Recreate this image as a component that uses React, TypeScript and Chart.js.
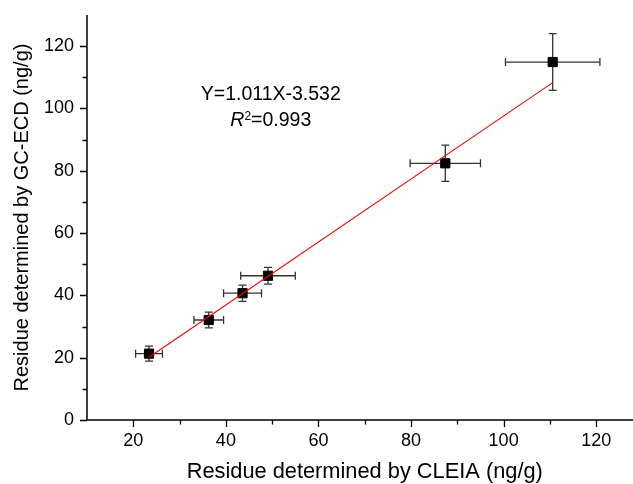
import React, { useEffect, useRef } from 'react';
import { Chart, registerables } from 'chart.js';

Chart.register(...registerables);

// ---- data ----
const cleiaValues = [23.4, 36.3, 43.6, 49.1, 87.4, 110.6];
const gcecdValues = [21.3, 32.1, 40.7, 46.3, 82.4, 114.9];
const cleiaErrors = [2.9, 3.2, 4.1, 5.9, 7.6, 10.2];
const gcecdErrors = [2.4, 2.5, 2.6, 2.7, 5.8, 9.1];
const fitSlope = 1.011;
const fitIntercept = -3.532;
const xMajorTicks = [20, 40, 60, 80, 100, 120];
const xMinorTicks = [30, 50, 70, 90, 110, 130];
const yMajorTicks = [0, 20, 40, 60, 80, 100, 120];
const yMinorTicks = [10, 30, 50, 70, 90, 110];
const equationText = 'Y=1.011X-3.532';
const r2Text = '=0.993';
const xTitle = 'Residue determined by CLEIA (ng/g)';
const yTitle = 'Residue determined by GC-ECD (ng/g)';

const FONT = "'Liberation Sans', Arial, Helvetica, sans-serif";

const decorPlugin = {
  id: 'decor',
  beforeDatasetsDraw(chart: any) {
    const { ctx, scales } = chart;
    const x = scales.x;
    const y = scales.y;
    ctx.save();
    ctx.strokeStyle = '#333333';
    ctx.lineWidth = 1.3;
    const cap = 4;
    cleiaValues.forEach((cx, i) => {
      const cy = gcecdValues[i];
      const px = x.getPixelForValue(cx);
      const py = y.getPixelForValue(cy);
      const xl = x.getPixelForValue(cx - cleiaErrors[i]);
      const xr = x.getPixelForValue(cx + cleiaErrors[i]);
      const yt = y.getPixelForValue(cy + gcecdErrors[i]);
      const yb = y.getPixelForValue(cy - gcecdErrors[i]);
      ctx.beginPath();
      ctx.moveTo(xl, py); ctx.lineTo(xr, py);
      ctx.moveTo(xl, py - cap); ctx.lineTo(xl, py + cap);
      ctx.moveTo(xr, py - cap); ctx.lineTo(xr, py + cap);
      ctx.moveTo(px, yt); ctx.lineTo(px, yb);
      ctx.moveTo(px - cap, yt); ctx.lineTo(px + cap, yt);
      ctx.moveTo(px - cap, yb); ctx.lineTo(px + cap, yb);
      ctx.stroke();
    });
    ctx.restore();
  },
  afterDraw(chart: any) {
    const { ctx, scales, chartArea } = chart;
    const x = scales.x;
    const y = scales.y;
    ctx.save();
    ctx.strokeStyle = '#000000';
    ctx.lineWidth = 1.5;
    // axis lines
    ctx.beginPath();
    ctx.moveTo(chartArea.left, chartArea.top);
    ctx.lineTo(chartArea.left, chartArea.bottom);
    ctx.lineTo(chartArea.right, chartArea.bottom);
    ctx.stroke();
    // ticks (outward)
    const major = 7;
    const minor = 4.5;
    ctx.lineWidth = 1.3;
    ctx.beginPath();
    xMajorTicks.forEach((v) => {
      const p = Math.round(x.getPixelForValue(v)) + 0.5;
      ctx.moveTo(p, chartArea.bottom); ctx.lineTo(p, chartArea.bottom + major);
    });
    xMinorTicks.forEach((v) => {
      const p = Math.round(x.getPixelForValue(v)) + 0.5;
      ctx.moveTo(p, chartArea.bottom); ctx.lineTo(p, chartArea.bottom + minor);
    });
    yMajorTicks.forEach((v) => {
      const p = Math.round(y.getPixelForValue(v)) + 0.5;
      ctx.moveTo(chartArea.left, p); ctx.lineTo(chartArea.left - major, p);
    });
    yMinorTicks.forEach((v) => {
      const p = Math.round(y.getPixelForValue(v)) + 0.5;
      ctx.moveTo(chartArea.left, p); ctx.lineTo(chartArea.left - minor, p);
    });
    ctx.stroke();

    // equation annotation
    ctx.fillStyle = '#000000';
    ctx.textBaseline = 'alphabetic';
    const cx = x.getPixelForValue(49.7);
    ctx.font = `19.5px ${FONT}`;
    ctx.textAlign = 'center';
    ctx.fillText(equationText, cx, y.getPixelForValue(102.6));

    const baseR = y.getPixelForValue(94.3);
    ctx.textAlign = 'left';
    ctx.font = `italic 19.5px ${FONT}`;
    const wR = ctx.measureText('R').width;
    ctx.font = `12px ${FONT}`;
    const w2 = ctx.measureText('2').width;
    ctx.font = `19.5px ${FONT}`;
    const wRest = ctx.measureText(r2Text).width;
    const total = wR + w2 + wRest;
    let sx = cx - total / 2;
    ctx.font = `italic 19.5px ${FONT}`;
    ctx.fillText('R', sx, baseR);
    sx += wR;
    ctx.font = `12px ${FONT}`;
    ctx.fillText('2', sx, baseR - 6.5);
    sx += w2;
    ctx.font = `19.5px ${FONT}`;
    ctx.fillText(r2Text, sx, baseR);
    ctx.restore();
  },
};

export default function App() {
  const canvasRef = useRef<HTMLCanvasElement | null>(null);

  useEffect(() => {
    const canvas = canvasRef.current;
    if (!canvas) return;
    const xMin = Math.min(...cleiaValues);
    const xMax = Math.max(...cleiaValues);
    const fitLine = [xMin, xMax].map((v) => ({ x: v, y: fitSlope * v + fitIntercept }));
    const points = cleiaValues.map((v, i) => ({ x: v, y: gcecdValues[i] }));

    const chart = new Chart(canvas, {
      type: 'scatter',
      data: {
        datasets: [
          {
            type: 'line',
            label: 'fit',
            data: fitLine,
            borderColor: '#ff0000',
            borderWidth: 1.1,
            pointRadius: 0,
            fill: false,
          } as any,
          {
            label: 'data',
            data: points,
            pointStyle: 'rect',
            pointRadius: 6.5,
            pointBackgroundColor: '#000000',
            pointBorderColor: '#000000',
            pointBorderWidth: 1,
            showLine: false,
          },
        ],
      },
      options: {
        responsive: false,
        animation: false,
        events: [],
        layout: { padding: { top: 15, right: 7, left: 0, bottom: 0 } },
        plugins: {
          legend: { display: false },
          tooltip: { enabled: false },
        },
        scales: {
          x: {
            type: 'linear',
            min: 10,
            max: 130,
            grid: { display: false, drawTicks: false },
            border: { display: false },
            afterBuildTicks: (scale: any) => {
              scale.ticks = xMajorTicks.map((v) => ({ value: v }));
            },
            afterFit: (scale: any) => {
              scale.height = 64;
              scale.paddingLeft = 0;
              scale.paddingRight = 0;
            },
            ticks: {
              color: '#000000',
              padding: 10,
              maxRotation: 0,
              autoSkip: false,
              font: { family: FONT, size: 18 },
            },
            title: {
              display: true,
              text: xTitle,
              color: '#000000',
              font: { family: FONT, size: 21.8, lineHeight: 1.1 },
              padding: { top: 0, bottom: 0 },
            },
          },
          y: {
            type: 'linear',
            min: 0,
            max: 130,
            grid: { display: false, drawTicks: false },
            border: { display: false },
            afterBuildTicks: (scale: any) => {
              scale.ticks = yMajorTicks.map((v) => ({ value: v }));
            },
            afterFit: (scale: any) => {
              scale.width = 87;
              scale.paddingTop = 0;
              scale.paddingBottom = 0;
            },
            ticks: {
              color: '#000000',
              padding: 13,
              autoSkip: false,
              font: { family: FONT, size: 18 },
            },
            title: {
              display: true,
              text: yTitle,
              color: '#000000',
              font: { family: FONT, size: 20, lineHeight: 1.2 },
              padding: { top: 10.5, bottom: 0 },
            },
          },
        },
      },
      plugins: [decorPlugin],
    });
    return () => chart.destroy();
  }, []);

  return (
    <div
      style={{
        position: 'fixed',
        left: 0,
        top: 0,
        width: 633,
        height: 484,
        overflow: 'hidden',
        background: '#ffffff',
      }}
    >
      <canvas ref={canvasRef} width={650} height={484} style={{ display: 'block' }} />
    </div>
  );
}
